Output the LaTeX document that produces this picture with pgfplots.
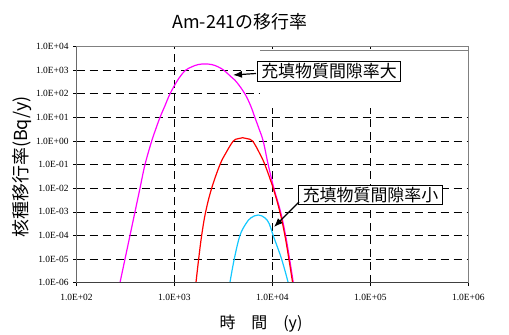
\documentclass[border=0pt]{standalone}
\usepackage{fontspec}
\setmainfont{Liberation Serif}
\newfontfamily\jp{Noto Sans CJK JP}
\usepackage{pgfplots}
\pgfplotsset{compat=1.18}
\usetikzlibrary{arrows.meta}
\definecolor{mag}{RGB}{255,0,255}
\definecolor{cyn}{RGB}{20,200,255}
\begin{document}
\begin{tikzpicture}
\path[use as bounding box] (0,0) rectangle (509bp,335bp);
\begin{axis}[
  at={(76.5bp,52.3bp)}, anchor=south west,
  scale only axis, width=391.8bp, height=236bp,
  xmode=log, ymode=log,
  xmin=1e2, xmax=1e6, ymin=1e-6, ymax=1e4,
  xtick={1e2,1e3,1e4,1e5,1e6},
  xticklabels={1.0E+02,1.0E+03,1.0E+04,1.0E+05,1.0E+06},
  ytick={1e-6,1e-5,1e-4,1e-3,1e-2,1e-1,1,1e1,1e2,1e3,1e4},
  yticklabels={1.0E-06,1.0E-05,1.0E-04,1.0E-03,1.0E-02,1.0E-01,1.0E+00,1.0E+01,1.0E+02,1.0E+03,1.0E+04},
  xminorticks=false, yminorticks=false,
  xtick pos=bottom, ytick pos=left,
  tick align=outside, major tick length=3.5bp,
  tick style={black, line width=0.8bp},
  ticklabel style={font=\fontsize{9.5}{11}\selectfont},
  xticklabel style={yshift=-4bp},
  yticklabel style={xshift=-1bp},
  grid=major,
  major grid style={black, line width=0.8bp, dash pattern=on 8bp off 5bp},
  axis line style={gray, line width=0.8bp},
  clip=true,
]
\fill[white] (axis cs:7447,25) rectangle (axis cs:9.9e5,7.2e3);
\draw[gray, line width=0.8bp] (axis cs:7447,7.2e3) -- (axis cs:1e6,7.2e3);
\addplot[mag, line width=1.2bp, smooth, tension=0.6] coordinates {
(277.9,1e-6) (312.6,1e-5) (351.6,1e-4) (395.4,1e-3) (444.6,1e-2) (500.0,1e-1)
(585.4,1) (643.1,3.16) (711.2,10) (800.2,31.6) (899.9,100)
(1048,316) (1151,562) (1295,1000) (1509,1413) (1737,1738) (2048,1862)
(2414,1738) (2779,1413) (3200,1000) (3727,562) (4312,316)
(5241,100) (5993,31.6)
(6630,10) (7333,3.16) (8055,1) (9061,0.1) (10360,0.01) (12127,1e-3) (13637,1e-4)
(14979,1e-5) (16346,1e-6)};
\addplot[red, line width=1.2bp, smooth, tension=0.6] coordinates {
(1658,1e-6) (1766,1e-5) (1895,1e-4) (2082,1e-3) (2397,1e-2) (2913,1e-1) (3354,0.316)
(3981,1) (4446,1.26) (4966,1.39) (5558,1.26) (6281,1) (7367,0.316) (8385,0.1)
(10190,0.01) (11927,1e-3) (13414,1e-4) (14736,1e-5) (16077,1e-6)};
\addplot[cyn, line width=1.2bp, smooth, tension=0.6] coordinates {
(3684,1e-6) (4076,1e-5) (4660,1e-4) (5364,3.16e-4) (6034,5.6e-4) (7164,7.4e-4)
(8385,5.6e-4) (9276,3.16e-4) (10190,1e-4) (12415,1e-5) (14497,1e-6)};
\draw[gray, line width=0.8bp] (rel axis cs:0,1) -- (rel axis cs:1,1) -- (rel axis cs:1,0);
\draw[black!75, line width=1.2bp] (rel axis cs:0,1) -- (rel axis cs:0,0) -- (rel axis cs:1,0);
\end{axis}
\node[font=\jp\fontsize{18}{20}\selectfont] at (240bp,313bp) {Am-241の移行率};
\node[font=\jp\fontsize{18}{20}\selectfont, rotate=90] at (22bp,168bp) {核種移行率(Bq/y)};
\node[font=\jp\fontsize{16}{18}\selectfont] at (261bp,11bp) {時　間　(y)};
\node[draw, line width=1.2bp, fill=white, inner xsep=4bp, inner ysep=2bp,
  font=\jp\fontsize{17}{19}\selectfont] (b1) at (329bp,263.5bp) {充填物質間隙率大};
\node[draw, line width=1.2bp, fill=white, inner xsep=4bp, inner ysep=2bp,
  font=\jp\fontsize{17}{19}\selectfont] (b2) at (370.5bp,140bp) {充填物質間隙率小};
\draw[line width=1.2bp, -{Latex[length=9bp,width=7bp]}] (256bp,261.5bp) -- (233bp,260bp);
\draw[line width=1.2bp, -{Latex[length=9bp,width=7bp]}] (299bp,133bp) -- (274bp,108bp);
\end{tikzpicture}
\end{document}
